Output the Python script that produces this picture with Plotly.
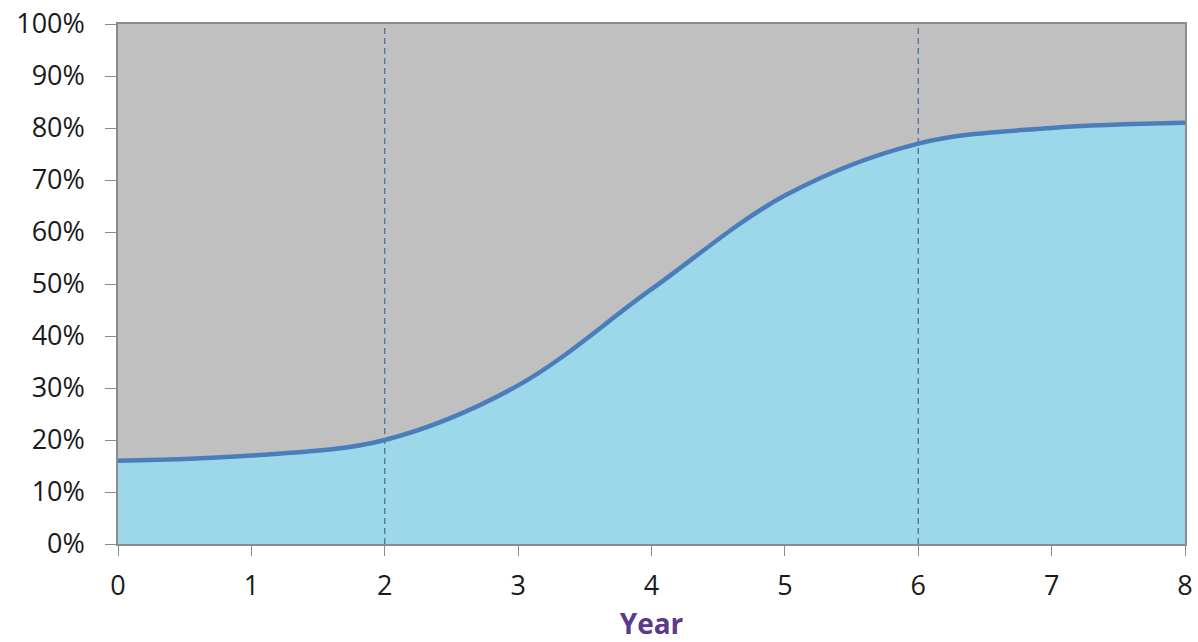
import plotly.graph_objects as go

years = [0, 1, 2, 3, 4, 5, 6, 7, 8]
share = [16, 17, 20, 30.5, 49, 67, 77, 80, 81]
total = [100] * len(years)
marker_years = [2, 6]
y_ticks = list(range(0, 101, 10))
y_labels = [f"{v}%" for v in y_ticks]

fig = go.Figure()
fig.add_trace(go.Scatter(x=years, y=share, mode="lines", line=dict(shape="spline", color="#4A7EBB", width=0),
                         fill="tozeroy", fillcolor="#9DD8EA", hoverinfo="skip", showlegend=False))
fig.add_trace(go.Scatter(x=years, y=total, mode="lines", line=dict(color="#C0C0C0", width=0),
                         fill="tonexty", fillcolor="#C0C0C0", hoverinfo="skip", showlegend=False))
for yr in marker_years:
    fig.add_trace(go.Scatter(x=[yr, yr], y=[0, 101], mode="lines",
                             line=dict(color="#4F6F9A", width=1.3, dash="6px,4px"),
                             cliponaxis=False, showlegend=False, hoverinfo="skip"))
fig.add_trace(go.Scatter(x=years, y=share, mode="lines", line=dict(shape="spline", color="#4A7EBB", width=4.5),
                         showlegend=False))

fig.update_layout(
    width=1198, height=642,
    margin=dict(l=118, r=13, t=24, b=98, autoexpand=False),
    paper_bgcolor="white", plot_bgcolor="white",
    font=dict(family="Open Sans, Liberation Sans, sans-serif", size=27, color="#1a1a1a"),
    xaxis=dict(range=[0, 8], tickvals=years, ticks="outside", ticklen=10, tickcolor="#8c8c8c",
               showline=True, linecolor="#8c8c8c", linewidth=1.5, mirror=True, showgrid=False, zeroline=False,
               ticklabelstandoff=7, automargin=False, tickfont=dict(size=27), ticklabeloverflow="allow",
               title=dict(text="<b>Year</b>", font=dict(size=28, color="#5B3A8C"), standoff=15)),
    yaxis=dict(range=[0, 100], tickvals=y_ticks, ticktext=y_labels, ticks="outside", ticklen=11,
               tickcolor="#8c8c8c", showline=True, linecolor="#8c8c8c", linewidth=1.5, mirror=True,
               showgrid=False, zeroline=False, ticklabelstandoff=15, automargin=False, tickfont=dict(size=27),
               ticklabeloverflow="allow"),
)
fig.write_html("out.html", config={"displayModeBar": False},
               post_script="document.body.style.margin='0';document.body.style.overflow='hidden';")
